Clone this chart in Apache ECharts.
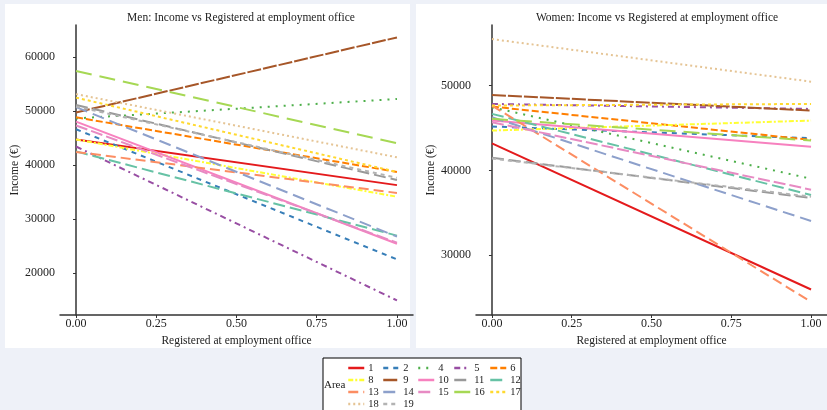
<!DOCTYPE html>
<html lang="en">
<head>
    <meta charset="UTF-8">
    <title>Income vs Registered at employment office</title>
    <style>
        html, body { margin: 0; padding: 0; background: #eef1f8; }
        #chart { width: 827px; height: 410px; }
    </style>
</head>
<body>
<div id="chart"></div>
<script src="https://cdn.jsdelivr.net/npm/echarts@6/dist/echarts.min.js"></script>
<script type="text/javascript">
    const chart = echarts.init(document.getElementById('chart'));

    // areas present in the data
    const areas = ['1', '2', '4', '5', '6', '8', '9', '10', '11', '12', '13', '14', '15', '16', '17', '18', '19'];
    const xTicks = [0, 0.25, 0.5, 0.75, 1];
    const menTicks = [20000, 30000, 40000, 50000, 60000];
    const womenTicks = [30000, 40000, 50000];

    // fitted income at registered = 0 and registered = 1
    const menStart = [44700, 46600, 48600, 43400, 48800, 44700, 49700, 48000, 51100, 42500, 42400, 50700, 47300, 57400, 52450, 53100, 50800];
    const menEnd   = [36250, 22500, 52200, 14900, 38700, 34100, 63600, 25400, 37200, 26900, 34800, 26700, 25600, 44000, 38700, 41400, 37600];
    const womenStart = [43200, 45180, 47450, 47840, 47530, 44700, 48900, 45880, 41490, 46670, 47650, 46270, 45690, 46080, 47650, 55490, 41400];
    const womenEnd   = [25960, 43800, 39020, 47250, 43600, 45880, 47060, 42800, 36740, 37100, 24500, 34040, 37730, 43530, 47840, 50470, 36900];

    const colors = {
        '1': '#E41A1C', '2': '#377EB8', '4': '#4DAF4A', '5': '#984EA3', '6': '#FF7F00',
        '8': '#FFFF33', '9': '#A65628', '10': '#F781BF', '11': '#999999', '12': '#66C2A5',
        '13': '#FC8D62', '14': '#8DA0CB', '15': '#E78AC3', '16': '#A6D854', '17': '#FFD92F',
        '18': '#E5C494', '19': '#B3B3B3'
    };
    const dashes = {
        '1': 'solid', '2': [5, 5], '4': [2, 6], '5': [6, 4, 2, 4], '6': [7, 3],
        '8': [5, 2, 2, 2], '9': [14, 2], '10': 'solid', '11': [12, 5], '12': [12, 5],
        '13': [10, 5], '14': [12, 6], '15': [12, 4], '16': [16, 8], '17': [3, 3],
        '18': [2, 3], '19': [4, 4]
    };

    const font = 'Liberation Serif, DejaVu Serif, serif';
    const txt = '#222';

    function xAxis(grid) {
        return {
            type: 'value', gridIndex: grid, min: -0.05, max: 1.05,
            name: 'Registered at employment office', nameLocation: 'middle', nameGap: 15,
            nameTextStyle: {fontFamily: font, fontSize: 11.5, color: txt},
            splitLine: {show: false},
            axisLine: {lineStyle: {color: '#333', width: 1.5}},
            axisTick: {customValues: xTicks, length: 3, lineStyle: {color: '#333'}},
            axisLabel: {customValues: xTicks, fontFamily: font, fontSize: 12, color: txt, margin: 3,
                formatter: v => v.toFixed(2)}
        };
    }
    function yAxis(grid, min, max, ticks) {
        return {
            type: 'value', gridIndex: grid, min: min, max: max,
            name: 'Income (€)', nameLocation: 'middle', nameGap: 35,
            nameTextStyle: {fontFamily: font, fontSize: 11.5, color: txt},
            splitLine: {show: false},
            axisLine: {show: true, lineStyle: {color: '#333', width: 1.5}},
            axisTick: {show: true, customValues: ticks, length: 3, lineStyle: {color: '#333'}},
            axisLabel: {customValues: ticks, fontFamily: font, fontSize: 12, color: txt, margin: 5,
                formatter: v => String(v)}
        };
    }

    const series = [];
    areas.forEach((a, i) => {
        [[0, menStart, menEnd], [1, womenStart, womenEnd]].forEach(([g, s, e]) => {
            series.push({
                name: a, type: 'line', xAxisIndex: g, yAxisIndex: g,
                showSymbol: false, symbol: 'none', silent: true,
                color: colors[a],
                lineStyle: {color: colors[a], width: 2, type: dashes[a]},
                data: [[0, s[i]], [1, e[i]]]
            });
        });
    });

    const legendCols = [
        ['1', '8', '13', '18'],
        ['2', '9', '14', '19'],
        ['4', '10', '15'],
        ['5', '11', '16'],
        ['6', '12', '17']
    ];
    const colLeft = [347, 382, 417, 453, 489];
    const legends = legendCols.map((d, i) => ({
        data: d, orient: 'vertical', left: colLeft[i], top: 362,
        itemWidth: 16, itemHeight: 4, itemGap: 0, padding: 0, selectedMode: false,
        itemStyle: {opacity: 0},
        lineStyle: {width: 2.5},
        textStyle: {fontFamily: font, fontSize: 10.5, color: txt, lineHeight: 12, padding: [0, 0, 0, -1]}
    }));

    chart.setOption({
        backgroundColor: '#eef1f8',
        animation: false,
        graphic: [
            {type: 'rect', z: -10, shape: {x: 5, y: 4, width: 405, height: 344}, style: {fill: '#fff'}},
            {type: 'rect', z: -10, shape: {x: 416, y: 4, width: 411, height: 344}, style: {fill: '#fff'}},
            {type: 'rect', z: -10, shape: {x: 323, y: 358, width: 198, height: 60}, style: {fill: '#fff', stroke: '#000', lineWidth: 1}},
            {type: 'text', left: 324, top: 380, style: {text: 'Area', fontFamily: font, fontSize: 11, fill: txt}}
        ],
        title: [
            {text: 'Men: Income vs Registered at employment office', left: 236, top: 7, textAlign: 'center',
                textStyle: {fontFamily: font, fontSize: 11.5, fontWeight: 'normal', color: txt}},
            {text: 'Women: Income vs Registered at employment office', left: 652, top: 7, textAlign: 'center',
                textStyle: {fontFamily: font, fontSize: 11.5, fontWeight: 'normal', color: txt}}
        ],
        legend: legends,
        grid: [
            {left: 60, top: 25, width: 353, height: 290},
            {left: 476, top: 25, width: 353, height: 290}
        ],
        xAxis: [xAxis(0), xAxis(1)],
        yAxis: [yAxis(0, 12200, 65900, menTicks), yAxis(1, 22950, 57150, womenTicks)],
        series: series
    });
</script>
</body>
</html>
